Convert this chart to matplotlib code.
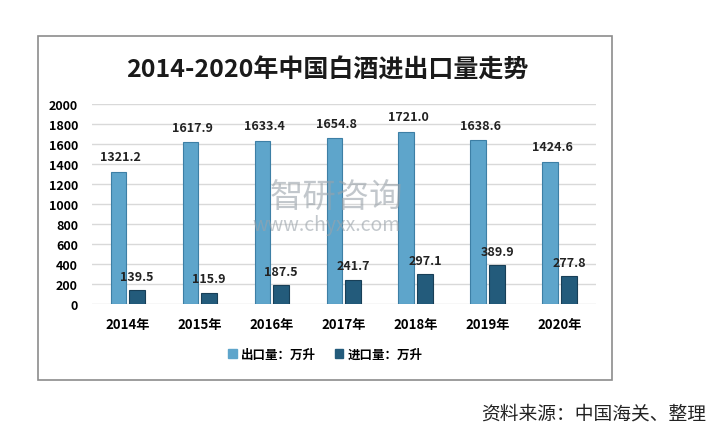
import numpy as np
import matplotlib
matplotlib.use("Agg")
import matplotlib.pyplot as plt
from matplotlib.patches import Rectangle

plt.rcParams['font.family'] = ['Noto Sans CJK SC', 'DejaVu Sans']

# data
years = ['2014年', '2015年', '2016年', '2017年', '2018年', '2019年', '2020年']
exports = [1321.2, 1617.9, 1633.4, 1654.8, 1721.0, 1638.6, 1424.6]
imports = [139.5, 115.9, 187.5, 241.7, 297.1, 389.9, 277.8]
yticks = list(range(0, 2001, 200))

fig = plt.figure(figsize=(7.23, 4.39), dpi=100)

# outer frame
fig.patches.append(Rectangle((0.0526, 0.132), 0.794, 0.784, transform=fig.transFigure,
                             fill=False, edgecolor='#8c8c8c', linewidth=1.2))

ax = fig.add_axes([0.127, 0.305, 0.697, 0.456])
x = np.arange(len(years))
w = 0.22
ax.bar(x - 0.13, exports, width=w, color='#5ea5cb', edgecolor='#3d7fa5', linewidth=0.8, zorder=3)
ax.bar(x + 0.13, imports, width=w, color='#235b7b', edgecolor='#183f57', linewidth=0.8, zorder=3)

for i in range(len(years)):
    ax.text(x[i] - 0.1, exports[i] + 150, f'{exports[i]:.1f}', ha='center', va='center',
            fontsize=9, fontweight='bold', color='#222222', zorder=4)
    ax.text(x[i] + 0.13, imports[i] + 140, f'{imports[i]:.1f}', ha='center', va='center',
            fontsize=9, fontweight='bold', color='#222222', zorder=4)

ax.set_xlim(-0.5, len(years) - 0.5)
ax.set_ylim(0, 2000)
ax.set_yticks(yticks)
ax.set_yticklabels([str(t) for t in yticks], fontsize=9, fontweight='bold')
ax.set_xticks(x)
ax.set_xticklabels(years, fontsize=9.5, fontweight='bold')
ax.tick_params(axis='both', length=0)
ax.tick_params(axis='y', pad=10)
ax.tick_params(axis='x', pad=9)
ax.grid(axis='y', color='#d9d9d9', linewidth=1.0, zorder=0)
for s in ax.spines.values():
    s.set_visible(False)

# watermark
fig.text(0.465, 0.551, '智研咨询', fontsize=24, color='#9aa3aa', alpha=0.6,
         ha='center', va='center', zorder=5)
fig.text(0.452, 0.487, 'www.chyxx.com', fontsize=14, color='#9aa3aa', alpha=0.6,
         ha='center', va='center', zorder=5)

fig.text(0.452, 0.84, '2014-2020年中国白酒进出口量走势', fontsize=18, fontweight='bold',
         ha='center', va='center', color='#1a1a1a')

# legend
handles = [Rectangle((0, 0), 1, 1, color='#5ea5cb'), Rectangle((0, 0), 1, 1, color='#235b7b')]
fig.legend(handles, ['出口量：万升', '进口量：万升'], loc='center', bbox_to_anchor=(0.45, 0.19),
           ncol=2, frameon=False, handlelength=0.7, handleheight=0.7, handletextpad=0.3,
           columnspacing=1.5, prop={'size': 9, 'weight': 'bold'})

fig.text(0.665, 0.058, '资料来源：中国海关、整理', fontsize=13.5, color='#222222',
         ha='left', va='center')

fig.savefig('out.png', dpi=100)
